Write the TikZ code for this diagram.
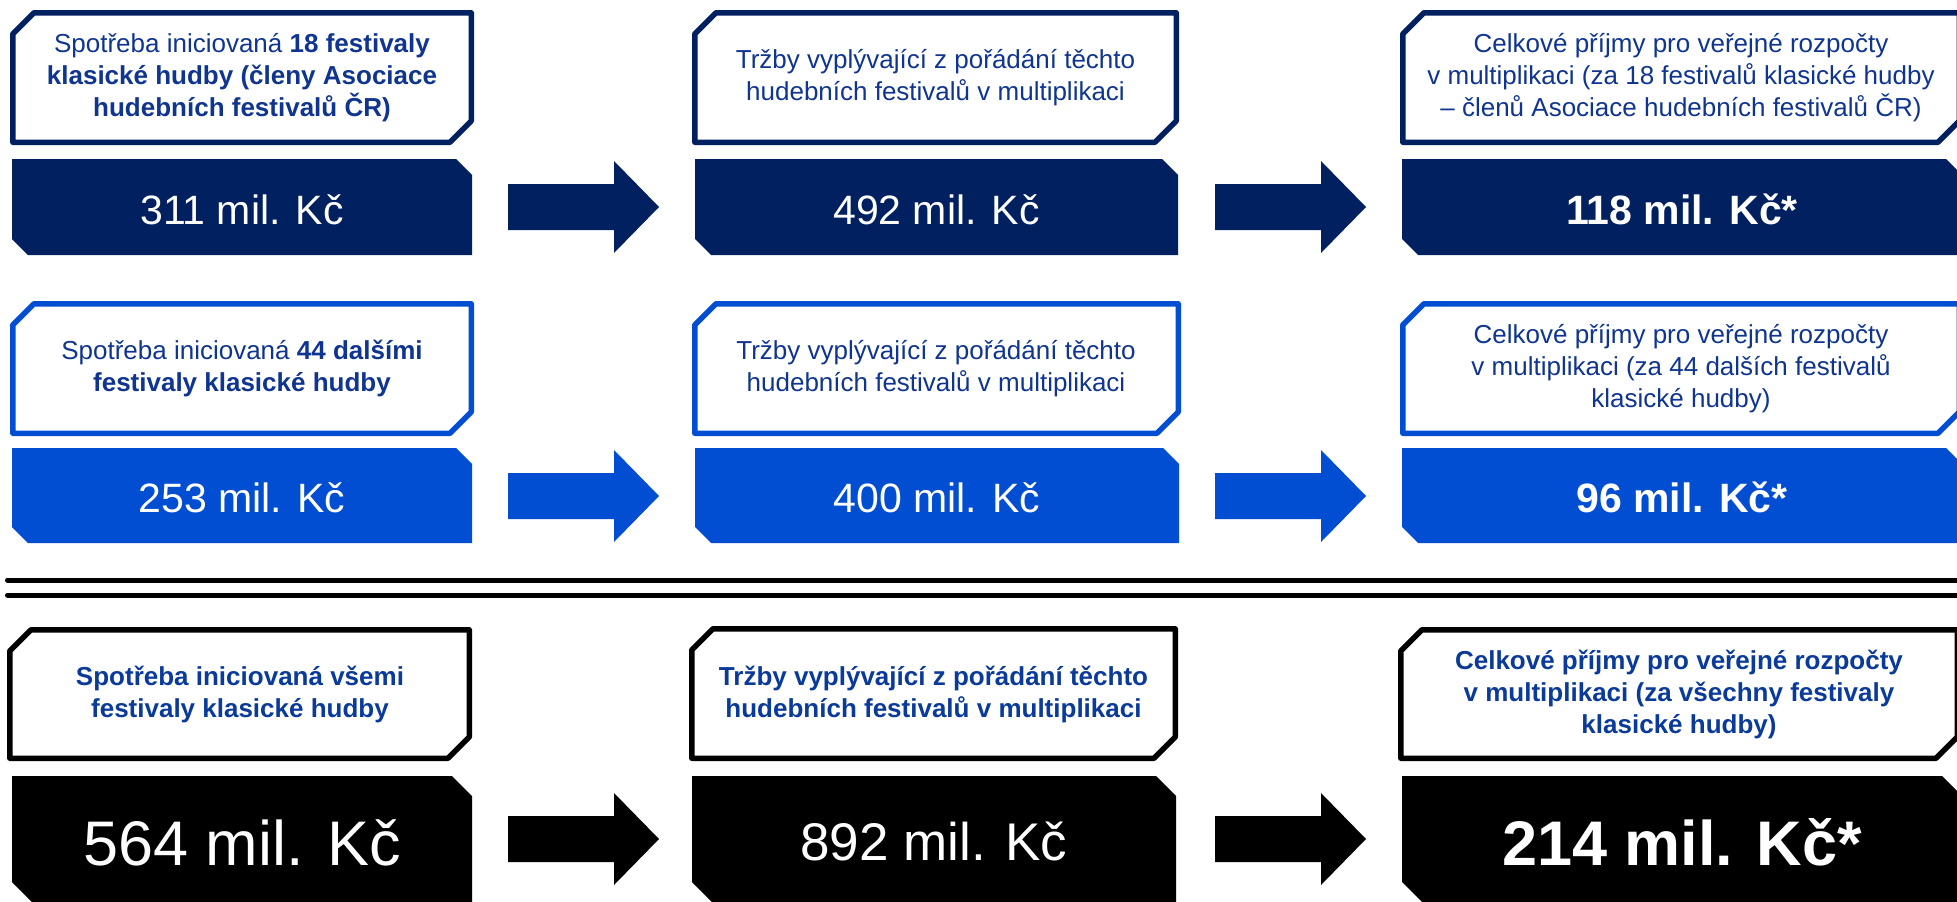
\documentclass[tikz,border=0pt]{standalone}
\usepackage{fontspec}
\setmainfont{Liberation Sans}
\definecolor{navy}{HTML}{002060}
\definecolor{bblue}{HTML}{024ED3}
\definecolor{txtA}{HTML}{0F3590}
\definecolor{txtB}{HTML}{0A3A9A}
\tikzset{
  lbl/.style={line width=5.5pt, fill=white, line join=round},
  lbltext/.style={align=center, font=\fontsize{26}{32}\selectfont, inner sep=0pt},
  valtext/.style={text=white, anchor=base, inner sep=0pt},
  sepline/.style={line width=5pt, line cap=round, draw=black}
}
% label box: colour, outer x1, y1, x2, y2
\newcommand\LabelShape[5]{%
  \draw[lbl, draw=#1] ({#2+2.75},{#3+24}) -- ({#2+24},{#3+2.75}) -- ({#4-2.75},{#3+2.75})
    -- ({#4-2.75},{#5-24}) -- ({#4-24},{#5-2.75}) -- ({#2+2.75},{#5-2.75}) -- cycle;}
% value box: colour, x1, y1, x2, y2, cut
\newcommand\ValueShape[6]{%
  \fill[#1] ({#2},{#3}) -- ({#4-#6},{#3}) -- ({#4},{#3+#6}) -- ({#4},{#5})
    -- ({#2+#6},{#5}) -- ({#2},{#5-#6}) -- cycle;}
% block arrow: colour, x start, y centre
\newcommand\BlockArrow[3]{%
  \fill[#1] ({#2},{#3-23}) -- ({#2+106},{#3-23}) -- ({#2+106},{#3-46}) -- ({#2+151},{#3})
    -- ({#2+106},{#3+46}) -- ({#2+106},{#3+23}) -- ({#2},{#3+23}) -- cycle;}
\begin{document}
\begin{tikzpicture}[x=1pt,y=-1pt]
\useasboundingbox[fill=white] (0,0) rectangle (1957,902);

% ---------- Row 1 ----------
\LabelShape{navy}{10}{10}{474}{145}
\LabelShape{navy}{692}{10}{1179}{145}
\LabelShape{navy}{1400}{10}{1962}{145}
\ValueShape{navy}{12}{159}{472}{255}{16}
\ValueShape{navy}{695}{159}{1178}{255}{16}
\ValueShape{navy}{1402}{159}{1962}{255}{16}
\BlockArrow{navy}{508}{207}
\BlockArrow{navy}{1215}{207}

\node[lbltext, text=txtA] (l11) at (242,77.5)
  {Spotřeba iniciovaná \textbf{18 festivaly}\\\textbf{klasické hudby (členy Asociace}\\\textbf{hudebních festivalů ČR)}};
\node[lbltext, text=txtA] (l12) at (935.5,77.5)
  {Tržby vyplývající z pořádání těchto\\hudebních festivalů v multiplikaci};
\node[lbltext, text=txtA] (l13) at (1681,77.5)
  {Celkové příjmy pro veřejné rozpočty\\v multiplikaci (za 18 festivalů klasické hudby\\– členů Asociace hudebních festivalů ČR)};
\node[valtext, font=\fontsize{41}{48}\selectfont] (v11) at (242,224) {311 mil. Kč};
\node[valtext, font=\fontsize{41}{48}\selectfont] (v12) at (936.5,224) {492 mil. Kč};
\node[valtext, font=\fontsize{41}{48}\selectfont\bfseries] (v13) at (1682,224) {118 mil. Kč*};

% ---------- Row 2 ----------
\LabelShape{bblue}{10}{301}{474}{436}
\LabelShape{bblue}{692}{301}{1181}{436}
\LabelShape{bblue}{1400}{301}{1962}{436}
\ValueShape{bblue}{12}{448}{472}{543}{16}
\ValueShape{bblue}{695}{448}{1179}{543}{16}
\ValueShape{bblue}{1402}{448}{1962}{543}{16}
\BlockArrow{bblue}{508}{496}
\BlockArrow{bblue}{1215}{496}

\node[lbltext, text=txtA] (l21) at (242,368.5)
  {Spotřeba iniciovaná \textbf{44 dalšími}\\\textbf{festivaly klasické hudby}};
\node[lbltext, text=txtA] (l22) at (936,368.5)
  {Tržby vyplývající z pořádání těchto\\hudebních festivalů v multiplikaci};
\node[lbltext, text=txtA] (l23) at (1681,368.5)
  {Celkové příjmy pro veřejné rozpočty\\v multiplikaci (za 44 dalších festivalů\\klasické hudby)};
\node[valtext, font=\fontsize{41}{48}\selectfont] (v21) at (242,512) {253 mil. Kč};
\node[valtext, font=\fontsize{41}{48}\selectfont] (v22) at (937,512) {400 mil. Kč};
\node[valtext, font=\fontsize{41}{48}\selectfont\bfseries] (v23) at (1682,512) {96 mil. Kč*};

% ---------- separator ----------
\draw[sepline] (7.5,580) -- (1975,580);
\draw[sepline] (7.5,595) -- (1975,595);

% ---------- Row 3 ----------
\LabelShape{black}{7}{627}{472}{761}
\LabelShape{black}{689}{626}{1178}{761}
\LabelShape{black}{1398}{627}{1960}{761}
\ValueShape{black}{12}{776}{472}{902}{20}
\ValueShape{black}{692}{776}{1176}{902}{20}
\ValueShape{black}{1402}{776}{1962}{902}{20}
\BlockArrow{black}{508}{839}
\BlockArrow{black}{1215}{839}

\node[lbltext, text=txtB, font=\fontsize{26}{32}\selectfont\bfseries] (l31) at (240,694)
  {Spotřeba iniciovaná všemi\\festivaly klasické hudby};
\node[lbltext, text=txtB, font=\fontsize{26}{32}\selectfont\bfseries] (l32) at (933.5,694)
  {Tržby vyplývající z pořádání těchto\\hudebních festivalů v multiplikaci};
\node[lbltext, text=txtB, font=\fontsize{26}{32}\selectfont\bfseries] (l33) at (1679,694)
  {Celkové příjmy pro veřejné rozpočty\\v multiplikaci (za všechny festivaly\\klasické hudby)};
\node[valtext, font=\fontsize{63}{70}\selectfont] (v31) at (242,865) {564 mil. Kč};
\node[valtext, font=\fontsize{53}{60}\selectfont] (v32) at (934,860) {892 mil. Kč};
\node[valtext, font=\fontsize{63}{70}\selectfont\bfseries] (v33) at (1682,865) {214 mil. Kč*};
\end{tikzpicture}
\end{document}
